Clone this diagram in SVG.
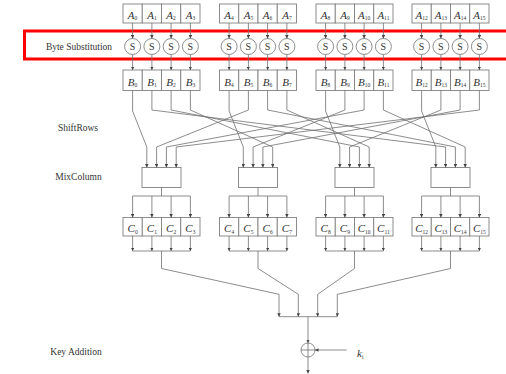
<svg xmlns="http://www.w3.org/2000/svg" width="506" height="374" viewBox="0 0 506 374">
<style>
.box{fill:#fff;stroke:#808080;stroke-width:0.9}
.ln{fill:none;stroke:#707070;stroke-width:0.8}
.ar{fill:none;stroke:#707070;stroke-width:0.8;marker-end:url(#ah)}
.lab{font-family:"Liberation Serif","Times New Roman",serif;font-size:9.5px;fill:#333;text-anchor:middle}
.v{font-family:"Liberation Serif","Times New Roman",serif;font-style:italic;font-size:11px;fill:#333;text-anchor:middle}
.sub{font-size:5.5px;font-style:normal}
.s{font-family:"Liberation Serif","Times New Roman",serif;font-size:10px;fill:#333;text-anchor:middle}
</style>
<defs>
<marker id="ah" viewBox="0 0 6 6" refX="6" refY="3" markerWidth="3.5" markerHeight="3.5" orient="auto" markerUnits="userSpaceOnUse"><path d="M0,0L6,3L0,6z" fill="#444"/></marker>
</defs>
<rect width="506" height="374" fill="#fff"/>
<rect x="24.5" y="31" width="490" height="28" fill="none" stroke="#ff0000" stroke-width="3"/>
<text class="lab" x="79" y="49.5">Byte Substitution</text>
<text class="lab" x="78" y="131">ShiftRows</text>
<text class="lab" x="78.5" y="180">MixColumn</text>
<text class="lab" x="76" y="355">Key Addition</text>

<g id="A-row">
<g id="A0-3"><rect class="box" x="123" y="4" width="19.25" height="19"/><rect class="box" x="142.25" y="4" width="19.25" height="19"/><rect class="box" x="161.5" y="4" width="19.25" height="19"/><rect class="box" x="180.75" y="4" width="19.25" height="19"/>
<text class="v" x="132.6" y="18.5">A<tspan class="sub" dy="1.5">0</tspan></text><text class="v" x="151.9" y="18.5">A<tspan class="sub" dy="1.5">1</tspan></text><text class="v" x="171.1" y="18.5">A<tspan class="sub" dy="1.5">2</tspan></text><text class="v" x="190.4" y="18.5">A<tspan class="sub" dy="1.5">3</tspan></text></g>
<g id="A4-7"><rect class="box" x="219.5" y="4" width="19.25" height="19"/><rect class="box" x="238.75" y="4" width="19.25" height="19"/><rect class="box" x="258" y="4" width="19.25" height="19"/><rect class="box" x="277.25" y="4" width="19.25" height="19"/>
<text class="v" x="229.1" y="18.5">A<tspan class="sub" dy="1.5">4</tspan></text><text class="v" x="248.4" y="18.5">A<tspan class="sub" dy="1.5">5</tspan></text><text class="v" x="267.6" y="18.5">A<tspan class="sub" dy="1.5">6</tspan></text><text class="v" x="286.9" y="18.5">A<tspan class="sub" dy="1.5">7</tspan></text></g>
<g id="A8-11"><rect class="box" x="316" y="4" width="19.25" height="19"/><rect class="box" x="335.25" y="4" width="19.25" height="19"/><rect class="box" x="354.5" y="4" width="19.25" height="19"/><rect class="box" x="373.75" y="4" width="19.25" height="19"/>
<text class="v" x="325.6" y="18.5">A<tspan class="sub" dy="1.5">8</tspan></text><text class="v" x="344.9" y="18.5">A<tspan class="sub" dy="1.5">9</tspan></text><text class="v" x="364.1" y="18.5">A<tspan class="sub" dy="1.5">10</tspan></text><text class="v" x="383.4" y="18.5">A<tspan class="sub" dy="1.5">11</tspan></text></g>
<g id="A12-15"><rect class="box" x="412" y="4" width="19.25" height="19"/><rect class="box" x="431.25" y="4" width="19.25" height="19"/><rect class="box" x="450.5" y="4" width="19.25" height="19"/><rect class="box" x="469.75" y="4" width="19.25" height="19"/>
<text class="v" x="421.6" y="18.5">A<tspan class="sub" dy="1.5">12</tspan></text><text class="v" x="440.9" y="18.5">A<tspan class="sub" dy="1.5">13</tspan></text><text class="v" x="460.1" y="18.5">A<tspan class="sub" dy="1.5">14</tspan></text><text class="v" x="479.4" y="18.5">A<tspan class="sub" dy="1.5">15</tspan></text></g>
</g>

<g id="S-row">
<g id="S0-3"><circle class="box" cx="132.6" cy="46.5" r="8"/><circle class="box" cx="151.9" cy="46.5" r="8"/><circle class="box" cx="171.1" cy="46.5" r="8"/><circle class="box" cx="190.4" cy="46.5" r="8"/>
<text class="s" x="132.6" y="50">S</text><text class="s" x="151.9" y="50">S</text><text class="s" x="171.1" y="50">S</text><text class="s" x="190.4" y="50">S</text></g>
<g id="S4-7"><circle class="box" cx="229.1" cy="46.5" r="8"/><circle class="box" cx="248.4" cy="46.5" r="8"/><circle class="box" cx="267.6" cy="46.5" r="8"/><circle class="box" cx="286.9" cy="46.5" r="8"/>
<text class="s" x="229.1" y="50">S</text><text class="s" x="248.4" y="50">S</text><text class="s" x="267.6" y="50">S</text><text class="s" x="286.9" y="50">S</text></g>
<g id="S8-11"><circle class="box" cx="325.6" cy="46.5" r="8"/><circle class="box" cx="344.9" cy="46.5" r="8"/><circle class="box" cx="364.1" cy="46.5" r="8"/><circle class="box" cx="383.4" cy="46.5" r="8"/>
<text class="s" x="325.6" y="50">S</text><text class="s" x="344.9" y="50">S</text><text class="s" x="364.1" y="50">S</text><text class="s" x="383.4" y="50">S</text></g>
<g id="S12-15"><circle class="box" cx="421.6" cy="46.5" r="8"/><circle class="box" cx="440.9" cy="46.5" r="8"/><circle class="box" cx="460.1" cy="46.5" r="8"/><circle class="box" cx="479.4" cy="46.5" r="8"/>
<text class="s" x="421.6" y="50">S</text><text class="s" x="440.9" y="50">S</text><text class="s" x="460.1" y="50">S</text><text class="s" x="479.4" y="50">S</text></g>
</g>

<g id="B-row">
<g id="B0-3"><rect class="box" x="123" y="70" width="19.25" height="20.5"/><rect class="box" x="142.25" y="70" width="19.25" height="20.5"/><rect class="box" x="161.5" y="70" width="19.25" height="20.5"/><rect class="box" x="180.75" y="70" width="19.25" height="20.5"/>
<text class="v" x="132.6" y="85.5">B<tspan class="sub" dy="1.5">0</tspan></text><text class="v" x="151.9" y="85.5">B<tspan class="sub" dy="1.5">1</tspan></text><text class="v" x="171.1" y="85.5">B<tspan class="sub" dy="1.5">2</tspan></text><text class="v" x="190.4" y="85.5">B<tspan class="sub" dy="1.5">3</tspan></text></g>
<g id="B4-7"><rect class="box" x="219.5" y="70" width="19.25" height="20.5"/><rect class="box" x="238.75" y="70" width="19.25" height="20.5"/><rect class="box" x="258" y="70" width="19.25" height="20.5"/><rect class="box" x="277.25" y="70" width="19.25" height="20.5"/>
<text class="v" x="229.1" y="85.5">B<tspan class="sub" dy="1.5">4</tspan></text><text class="v" x="248.4" y="85.5">B<tspan class="sub" dy="1.5">5</tspan></text><text class="v" x="267.6" y="85.5">B<tspan class="sub" dy="1.5">6</tspan></text><text class="v" x="286.9" y="85.5">B<tspan class="sub" dy="1.5">7</tspan></text></g>
<g id="B8-11"><rect class="box" x="316" y="70" width="19.25" height="20.5"/><rect class="box" x="335.25" y="70" width="19.25" height="20.5"/><rect class="box" x="354.5" y="70" width="19.25" height="20.5"/><rect class="box" x="373.75" y="70" width="19.25" height="20.5"/>
<text class="v" x="325.6" y="85.5">B<tspan class="sub" dy="1.5">8</tspan></text><text class="v" x="344.9" y="85.5">B<tspan class="sub" dy="1.5">9</tspan></text><text class="v" x="364.1" y="85.5">B<tspan class="sub" dy="1.5">10</tspan></text><text class="v" x="383.4" y="85.5">B<tspan class="sub" dy="1.5">11</tspan></text></g>
<g id="B12-15"><rect class="box" x="412" y="70" width="19.25" height="20.5"/><rect class="box" x="431.25" y="70" width="19.25" height="20.5"/><rect class="box" x="450.5" y="70" width="19.25" height="20.5"/><rect class="box" x="469.75" y="70" width="19.25" height="20.5"/>
<text class="v" x="421.6" y="85.5">B<tspan class="sub" dy="1.5">12</tspan></text><text class="v" x="440.9" y="85.5">B<tspan class="sub" dy="1.5">13</tspan></text><text class="v" x="460.1" y="85.5">B<tspan class="sub" dy="1.5">14</tspan></text><text class="v" x="479.4" y="85.5">B<tspan class="sub" dy="1.5">15</tspan></text></g>
</g>

<g id="MixColumn-boxes">
<rect id="M0" class="box" x="142" y="167.5" width="39" height="20"/>
<rect id="M1" class="box" x="238.5" y="167.5" width="39" height="20"/>
<rect id="M2" class="box" x="335" y="167.5" width="39" height="20"/>
<rect id="M3" class="box" x="431" y="167.5" width="39" height="20"/>
</g>

<g id="C-row">
<g id="C0-3"><rect class="box" x="123" y="217.5" width="19.25" height="18.5"/><rect class="box" x="142.25" y="217.5" width="19.25" height="18.5"/><rect class="box" x="161.5" y="217.5" width="19.25" height="18.5"/><rect class="box" x="180.75" y="217.5" width="19.25" height="18.5"/>
<text class="v" x="132.6" y="232">C<tspan class="sub" dy="1.5">0</tspan></text><text class="v" x="151.9" y="232">C<tspan class="sub" dy="1.5">1</tspan></text><text class="v" x="171.1" y="232">C<tspan class="sub" dy="1.5">2</tspan></text><text class="v" x="190.4" y="232">C<tspan class="sub" dy="1.5">3</tspan></text></g>
<g id="C4-7"><rect class="box" x="219.5" y="217.5" width="19.25" height="18.5"/><rect class="box" x="238.75" y="217.5" width="19.25" height="18.5"/><rect class="box" x="258" y="217.5" width="19.25" height="18.5"/><rect class="box" x="277.25" y="217.5" width="19.25" height="18.5"/>
<text class="v" x="229.1" y="232">C<tspan class="sub" dy="1.5">4</tspan></text><text class="v" x="248.4" y="232">C<tspan class="sub" dy="1.5">5</tspan></text><text class="v" x="267.6" y="232">C<tspan class="sub" dy="1.5">6</tspan></text><text class="v" x="286.9" y="232">C<tspan class="sub" dy="1.5">7</tspan></text></g>
<g id="C8-11"><rect class="box" x="316" y="217.5" width="19.25" height="18.5"/><rect class="box" x="335.25" y="217.5" width="19.25" height="18.5"/><rect class="box" x="354.5" y="217.5" width="19.25" height="18.5"/><rect class="box" x="373.75" y="217.5" width="19.25" height="18.5"/>
<text class="v" x="325.6" y="232">C<tspan class="sub" dy="1.5">8</tspan></text><text class="v" x="344.9" y="232">C<tspan class="sub" dy="1.5">9</tspan></text><text class="v" x="364.1" y="232">C<tspan class="sub" dy="1.5">10</tspan></text><text class="v" x="383.4" y="232">C<tspan class="sub" dy="1.5">11</tspan></text></g>
<g id="C12-15"><rect class="box" x="412" y="217.5" width="19.25" height="18.5"/><rect class="box" x="431.25" y="217.5" width="19.25" height="18.5"/><rect class="box" x="450.5" y="217.5" width="19.25" height="18.5"/><rect class="box" x="469.75" y="217.5" width="19.25" height="18.5"/>
<text class="v" x="421.6" y="232">C<tspan class="sub" dy="1.5">12</tspan></text><text class="v" x="440.9" y="232">C<tspan class="sub" dy="1.5">13</tspan></text><text class="v" x="460.1" y="232">C<tspan class="sub" dy="1.5">14</tspan></text><text class="v" x="479.4" y="232">C<tspan class="sub" dy="1.5">15</tspan></text></g>
</g>

<g id="XOR">
<circle class="box" cx="308" cy="350" r="7"/>
<path class="ln" d="M301,350H315M308,343V357"/>
<text class="v" x="357" y="357" style="text-anchor:start">k<tspan class="sub" dy="1.5">i</tspan></text>
</g>

<g id="connectors">
<!-- A to S -->
<path class="ar" d="M132.6,23V38.5"/><path class="ar" d="M151.9,23V38.5"/><path class="ar" d="M171.1,23V38.5"/><path class="ar" d="M190.4,23V38.5"/>
<path class="ar" d="M229.1,23V38.5"/><path class="ar" d="M248.4,23V38.5"/><path class="ar" d="M267.6,23V38.5"/><path class="ar" d="M286.9,23V38.5"/>
<path class="ar" d="M325.6,23V38.5"/><path class="ar" d="M344.9,23V38.5"/><path class="ar" d="M364.1,23V38.5"/><path class="ar" d="M383.4,23V38.5"/>
<path class="ar" d="M421.6,23V38.5"/><path class="ar" d="M440.9,23V38.5"/><path class="ar" d="M460.1,23V38.5"/><path class="ar" d="M479.4,23V38.5"/>
<!-- S to B -->
<path class="ar" d="M132.6,54.5V70"/><path class="ar" d="M151.9,54.5V70"/><path class="ar" d="M171.1,54.5V70"/><path class="ar" d="M190.4,54.5V70"/>
<path class="ar" d="M229.1,54.5V70"/><path class="ar" d="M248.4,54.5V70"/><path class="ar" d="M267.6,54.5V70"/><path class="ar" d="M286.9,54.5V70"/>
<path class="ar" d="M325.6,54.5V70"/><path class="ar" d="M344.9,54.5V70"/><path class="ar" d="M364.1,54.5V70"/><path class="ar" d="M383.4,54.5V70"/>
<path class="ar" d="M421.6,54.5V70"/><path class="ar" d="M440.9,54.5V70"/><path class="ar" d="M460.1,54.5V70"/><path class="ar" d="M479.4,54.5V70"/>
<!-- ShiftRows -->
<path class="ar" d="M132.6,90.5V111L146.8,147V167.5"/>
<path class="ar" d="M151.9,90.5V110L445.6,147V167.5"/>
<path class="ar" d="M171.1,90.5V110L359.4,147V167.5"/>
<path class="ar" d="M190.4,90.5V110L272.7,147V167.5"/>
<path class="ar" d="M229.1,90.5V111L243.3,147V167.5"/>
<path class="ar" d="M248.4,90.5V110L156.6,147V167.5"/>
<path class="ar" d="M267.6,90.5V110L455.4,147V167.5"/>
<path class="ar" d="M286.9,90.5V110L369.2,147V167.5"/>
<path class="ar" d="M325.6,90.5V111L339.8,147V167.5"/>
<path class="ar" d="M344.9,90.5V110L253.1,147V167.5"/>
<path class="ar" d="M364.1,90.5V110L166.4,147V167.5"/>
<path class="ar" d="M383.4,90.5V110L465.2,147V167.5"/>
<path class="ar" d="M421.6,90.5V111L435.8,147V167.5"/>
<path class="ar" d="M440.9,90.5V110L349.6,147V167.5"/>
<path class="ar" d="M460.1,90.5V110L262.9,147V167.5"/>
<path class="ar" d="M479.4,90.5V110L176.2,147V167.5"/>
<!-- Mix to C -->
<path class="ln" d="M161.5,187.5V196M132.6,196H190.4M258,187.5V196M229.1,196H286.9M354.5,187.5V196M325.6,196H383.4M450.5,187.5V196M421.6,196H479.4"/>
<path class="ar" d="M132.6,196V217.5"/><path class="ar" d="M151.9,196V217.5"/><path class="ar" d="M171.1,196V217.5"/><path class="ar" d="M190.4,196V217.5"/>
<path class="ar" d="M229.1,196V217.5"/><path class="ar" d="M248.4,196V217.5"/><path class="ar" d="M267.6,196V217.5"/><path class="ar" d="M286.9,196V217.5"/>
<path class="ar" d="M325.6,196V217.5"/><path class="ar" d="M344.9,196V217.5"/><path class="ar" d="M364.1,196V217.5"/><path class="ar" d="M383.4,196V217.5"/>
<path class="ar" d="M421.6,196V217.5"/><path class="ar" d="M440.9,196V217.5"/><path class="ar" d="M460.1,196V217.5"/><path class="ar" d="M479.4,196V217.5"/>
<!-- C to buses -->
<path class="ar" d="M132.6,236V251"/><path class="ar" d="M151.9,236V251"/><path class="ar" d="M171.1,236V251"/><path class="ar" d="M190.4,236V251"/>
<path class="ar" d="M229.1,236V251"/><path class="ar" d="M248.4,236V251"/><path class="ar" d="M267.6,236V251"/><path class="ar" d="M286.9,236V251"/>
<path class="ar" d="M325.6,236V251"/><path class="ar" d="M344.9,236V251"/><path class="ar" d="M364.1,236V251"/><path class="ar" d="M383.4,236V251"/>
<path class="ar" d="M421.6,236V251"/><path class="ar" d="M440.9,236V251"/><path class="ar" d="M460.1,236V251"/><path class="ar" d="M479.4,236V251"/>
<path class="ln" d="M132.6,251H190.4M229.1,251H286.9M325.6,251H383.4M421.6,251H479.4"/>
<!-- to key addition -->
<path class="ar" d="M161.5,251V268.5L279,294.3V316.7"/>
<path class="ar" d="M258,251V268.5L298.3,294.3V316.7"/>
<path class="ar" d="M354.5,251V268.5L317.7,294.3V316.7"/>
<path class="ar" d="M450.5,251V268.5L337.3,294.3V316.7"/>
<path class="ln" d="M279,316.7H337.3"/>
<path class="ar" d="M308,316.7V343"/>
<path class="ar" d="M346.7,350H315"/>
<path class="ar" d="M308,357V373.5"/>
</g>
</svg>
